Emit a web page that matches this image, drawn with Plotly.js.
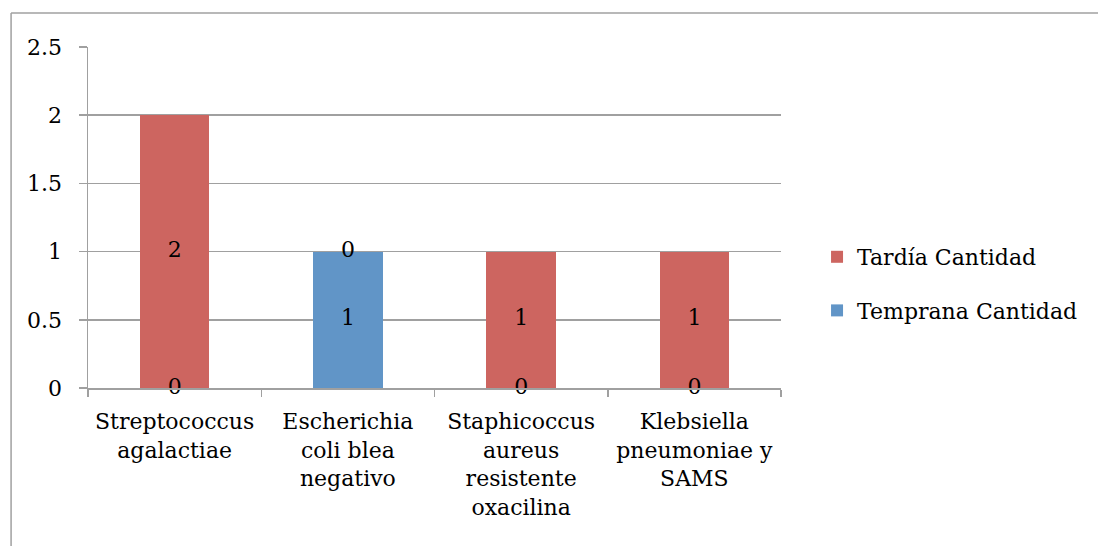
<!DOCTYPE html>
<html><head><meta charset="utf-8">
<script src="https://cdn.plot.ly/plotly-3.0.1.min.js"></script>
<style>html,body{margin:0;padding:0;background:#fff}#c{width:1098px;height:546px}</style>
</head><body><div id="c"></div>
<script>
const categories = ["Streptococcus<br>agalactiae", "Escherichia<br>coli blea<br>negativo", "Staphicoccus<br>aureus<br>resistente<br>oxacilina", "Klebsiella<br>pneumoniae y<br>SAMS"];
const tempranaName = "Temprana Cantidad";
const tardiaName = "Tardía Cantidad";
const temprana = [0, 1, 0, 0];
const tardia = [2, 0, 1, 1];
const yTicks = [0, 0.5, 1, 1.5, 2, 2.5];

const FONT = "DejaVu Serif, serif";
const red = "#CD6560", blue = "#6195C7";

const tempranaMid = temprana.map(v => v / 2);
const tardiaMid = tardia.map((v, i) => temprana[i] + v / 2);

const traces = [
  {type: "bar", x: categories, y: temprana, name: tempranaName, marker: {color: blue}, width: 0.4, hoverinfo: "none", legendgroup: "b", legendrank: 2000},
  {type: "bar", x: categories, y: tardia, name: tardiaName, marker: {color: red}, width: 0.4, hoverinfo: "none", legendgroup: "a", legendrank: 1000},
  {type: "scatter", mode: "text", x: categories, y: tempranaMid, text: temprana.map(String), textposition: "middle center", textfont: {family: FONT, size: 22, color: "#000"}, showlegend: false, hoverinfo: "none", cliponaxis: false},
  {type: "scatter", mode: "text", x: categories, y: tardiaMid, text: tardia.map(String), textposition: "middle center", textfont: {family: FONT, size: 22, color: "#000"}, showlegend: false, hoverinfo: "none", cliponaxis: false}
];

const layout = {
  width: 1098, height: 546,
  margin: {l: 88, r: 317, t: 47, b: 158, pad: 0},
  barmode: "stack",
  paper_bgcolor: "#fff", plot_bgcolor: "#fff",
  font: {family: FONT, size: 22, color: "#000"},
  xaxis: {type: "category", tickson: "boundaries", ticks: "outside", ticklen: 7, tickcolor: "#A0A0A0", tickwidth: 1.5,
          showline: true, linecolor: "#A0A0A0", linewidth: 1.5, showgrid: false, tickfont: {family: FONT, size: 22}, ticklabelstandoff: 13},
  yaxis: {range: [0, 2.5], tickvals: yTicks, ticktext: yTicks.map(String), ticks: "outside", ticklen: 8, tickcolor: "#A0A0A0", tickwidth: 1.5,
          showline: true, linecolor: "#A0A0A0", linewidth: 1.5, showgrid: true, gridcolor: "#A0A0A0", gridwidth: 1.5, zeroline: false,
          tickfont: {family: FONT, size: 22}, ticklabelstandoff: 12},
  legend: {x: 1.052, xanchor: "left", y: 0.305, yanchor: "middle", font: {family: FONT, size: 22}, traceorder: "grouped",
           itemwidth: 30, tracegroupgap: 22, bgcolor: "rgba(0,0,0,0)"},
  shapes: [
    {type: "line", xref: "paper", yref: "paper", x0: -0.111, x1: -0.111, y0: 1.0997, y1: -0.5, line: {color: "#A0A0A0", width: 1.5}},
    {type: "line", xref: "paper", yref: "paper", x0: -0.111, x1: 1.6, y0: 1.0997, y1: 1.0997, line: {color: "#A0A0A0", width: 1.5}}
  ],
  showlegend: true
};
Plotly.newPlot("c", traces, layout, {staticPlot: true});
</script></body></html>
